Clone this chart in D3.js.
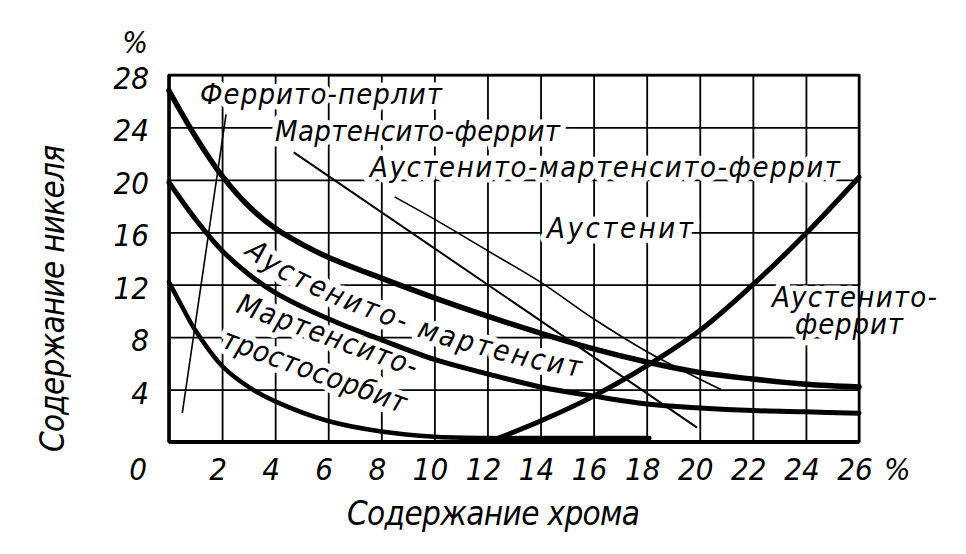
<!DOCTYPE html>
<html><head><meta charset="utf-8">
<script src="https://cdn.jsdelivr.net/npm/d3@7"></script>
<style>
body{margin:0;background:#fff}
svg{display:block}
text{font-family:"Liberation Sans Narrow","DejaVu Sans Condensed",sans-serif;font-style:italic;fill:#000}
</style></head><body><svg id="c" width="966" height="554"></svg>
<script>
// ---- data (Cr %, Ni %) ----
const crTicks = [0,2,4,6,8,10,12,14,16,18,20,22,24,26];
const niTicks = [4,8,12,16,20,24,28];
const austeniteBoundary = [[0,26.8],[1,23.3],[2,20.3],[3,18.0],[4,16.3],[5,15.1],[6,14.1],[8,12.5],[10,11.0],[12,9.6],[14,8.3],[16,7.1],[18,6.1],[20,5.3],[22,4.8],[24,4.4],[26,4.2]];
const martensiteBoundary = [[0,19.8],[1,17.0],[2,14.6],[3,12.8],[4,11.4],[6,9.4],[8,7.8],[10,6.3],[12,5.2],[14,4.2],[16,3.5],[18,2.9],[20,2.6],[22,2.4],[24,2.3],[26,2.2]];
const troostiteBoundary = [[0,12.2],[0.5,10.3],[1,8.5],[2,5.8],[3,4.2],[4,3.1],[6,1.6],[8,0.8],[10,0.4],[12,0.3],[14,0.3],[16,0.3],[18.1,0.3]];
const ferriteBoundary = [[12.1,0.05],[14,1.6],[16,3.5],[18,5.8],[20,8.5],[22,12.0],[24,15.9],[26,20.2]];
const ferritePearliteLine = [[0.5,2.2],[2.15,25]];
const martensiteFerriteLine = [[4.7,22.1],[19.9,1.1]];
const ausMartFerriteLine = [[8.5,18.7],[10,17.0],[12,14.6],[14,12.2],[16,9.4],[18,6.9],[19.5,5.3],[20.8,4.0]];
const xTitle = "Содержание хрома";
const yTitle = "Содержание никеля";
const unit = "%";

// ---- layout ----
const x = d3.scaleLinear().domain([0,26]).range([169,859]);
const y = d3.scaleLinear().domain([0,28]).range([442,75]);
const svg = d3.select("#c");

// grid
const gGrid = svg.append("g");
gGrid.append("g").attr("transform",`translate(0,${y(0)})`)
  .call(d3.axisBottom(x).tickValues(crTicks).tickSize(-(y(0)-y(28))).tickFormat(""))
  .call(g=>{g.select(".domain").remove(); g.selectAll("line").attr("stroke","#000").attr("stroke-width",1.8);});
gGrid.append("g").attr("transform",`translate(${x(0)},0)`)
  .call(d3.axisLeft(y).tickValues(niTicks).tickSize(-(x(26)-x(0))).tickFormat(""))
  .call(g=>{g.select(".domain").remove(); g.selectAll("line").attr("stroke","#000").attr("stroke-width",1.8);});

const curve = d3.curveCatmullRom.alpha(0.5);
const line = d3.line().x(d=>x(d[0])).y(d=>y(d[1])).curve(curve);
const straight = d3.line().x(d=>x(d[0])).y(d=>y(d[1]));
const lineUp = d3.line().x(d=>x(d[0])).y(d=>y(d[1])-17).curve(curve);

// helper path for curved label
const guide = svg.append("path").attr("id","amPath").attr("d", lineUp(martensiteBoundary)).attr("fill","none").attr("stroke","none");
function lenAtX(node, px){let lo=0,hi=node.getTotalLength();for(let i=0;i<40;i++){const m=(lo+hi)/2;if(node.getPointAtLength(m).x<px)lo=m;else hi=m;}return (lo+hi)/2;}
const L1 = lenAtX(guide.node(), 244), L2 = lenAtX(guide.node(), 580);

const labels = [
  {t:"Феррито-перлит", x:200, y:104, len:242},
  {t:"Мартенсито-феррит", x:275, y:141, len:285},
  {t:"Аустенито-мартенсито-феррит", x:370, y:177, len:470},
  {t:"Аустенит", x:547, y:238, len:146},
  {t:"Аустенито-", x:772, y:307, len:165},
  {t:"феррит", x:795, y:334, len:108},
  {t:"Мартенсито-", x:235, y:312, len:190, rot:20},
  {t:"тростосорбит", x:220, y:347, len:194, rot:20}
];
function drawLabels(g, halo){
  g.selectAll("text.l").data(labels).join("text").attr("class","l")
    .attr("transform",d=>`translate(${d.x},${d.y}) rotate(${d.rot||0})`)
    .attr("font-size",29).attr("textLength",d=>d.len).attr("lengthAdjust","spacing")
    .text(d=>d.t);
  g.append("text").attr("font-size",29).append("textPath")
    .attr("href","#amPath").attr("startOffset",L1).attr("textLength",L2-L1).attr("lengthAdjust","spacing")
    .text("Аустенито- мартенсит");
  if(halo){ g.selectAll("text").style("fill","#fff").attr("stroke","#fff").attr("stroke-width",11).attr("stroke-linejoin","round"); }
}
drawLabels(svg.append("g"), true);

// thin boundary lines
const gThin = svg.append("g").attr("fill","none").attr("stroke","#000");
gThin.append("path").attr("d",straight(ferritePearliteLine)).attr("stroke-width",1.6);
gThin.append("path").attr("d",straight(martensiteFerriteLine)).attr("stroke-width",2);
gThin.append("path").attr("d",line(ausMartFerriteLine)).attr("stroke-width",1.6);

// heavy curves
const gHeavy = svg.append("g").attr("fill","none").attr("stroke","#000").attr("stroke-linecap","round");
gHeavy.append("path").attr("d",line(austeniteBoundary)).attr("stroke-width",5.5);
gHeavy.append("path").attr("d",line(martensiteBoundary)).attr("stroke-width",5);
gHeavy.append("path").attr("d",line(troostiteBoundary)).attr("stroke-width",4.5);
gHeavy.append("path").attr("d",line(ferriteBoundary)).attr("stroke-width",5);

// frame
svg.append("rect").attr("x",x(0)).attr("y",y(28)).attr("width",x(26)-x(0)).attr("height",y(0)-y(28))
  .attr("fill","none").attr("stroke","#000").attr("stroke-width",2.5);
svg.append("line").attr("x1",x(0)).attr("x2",x(26)).attr("y1",y(0)).attr("y2",y(0)).attr("stroke","#000").attr("stroke-width",4);
svg.append("line").attr("x1",x(0)).attr("x2",x(0)).attr("y1",y(28)).attr("y2",y(0)).attr("stroke","#000").attr("stroke-width",3.5);

drawLabels(svg.append("g"), false);

// tick labels
svg.append("g").selectAll("text").data(crTicks).join("text")
  .attr("x",d=>x(d)-(d===0?31:4)).attr("y",y(0)+38).attr("text-anchor","middle").attr("font-size",31)
  .text(d=>d);
svg.append("g").selectAll("text").data(niTicks).join("text")
  .attr("x",149).attr("y",d=>y(d)+14).attr("text-anchor","end").attr("font-size",31)
  .text(d=>d);
svg.append("text").attr("x",135).attr("y",53).attr("text-anchor","middle").attr("font-size",30).text(unit);
svg.append("text").attr("x",884).attr("y",y(0)+38).attr("font-size",31).text(unit);

// axis titles
svg.append("text").attr("x",347).attr("y",525).attr("font-size",33).attr("textLength",293).attr("lengthAdjust","spacing").text(xTitle);
svg.append("text").attr("transform","translate(64,452) rotate(-90)").attr("font-size",33).attr("textLength",307).attr("lengthAdjust","spacing").text(yTitle);
</script></body></html>
